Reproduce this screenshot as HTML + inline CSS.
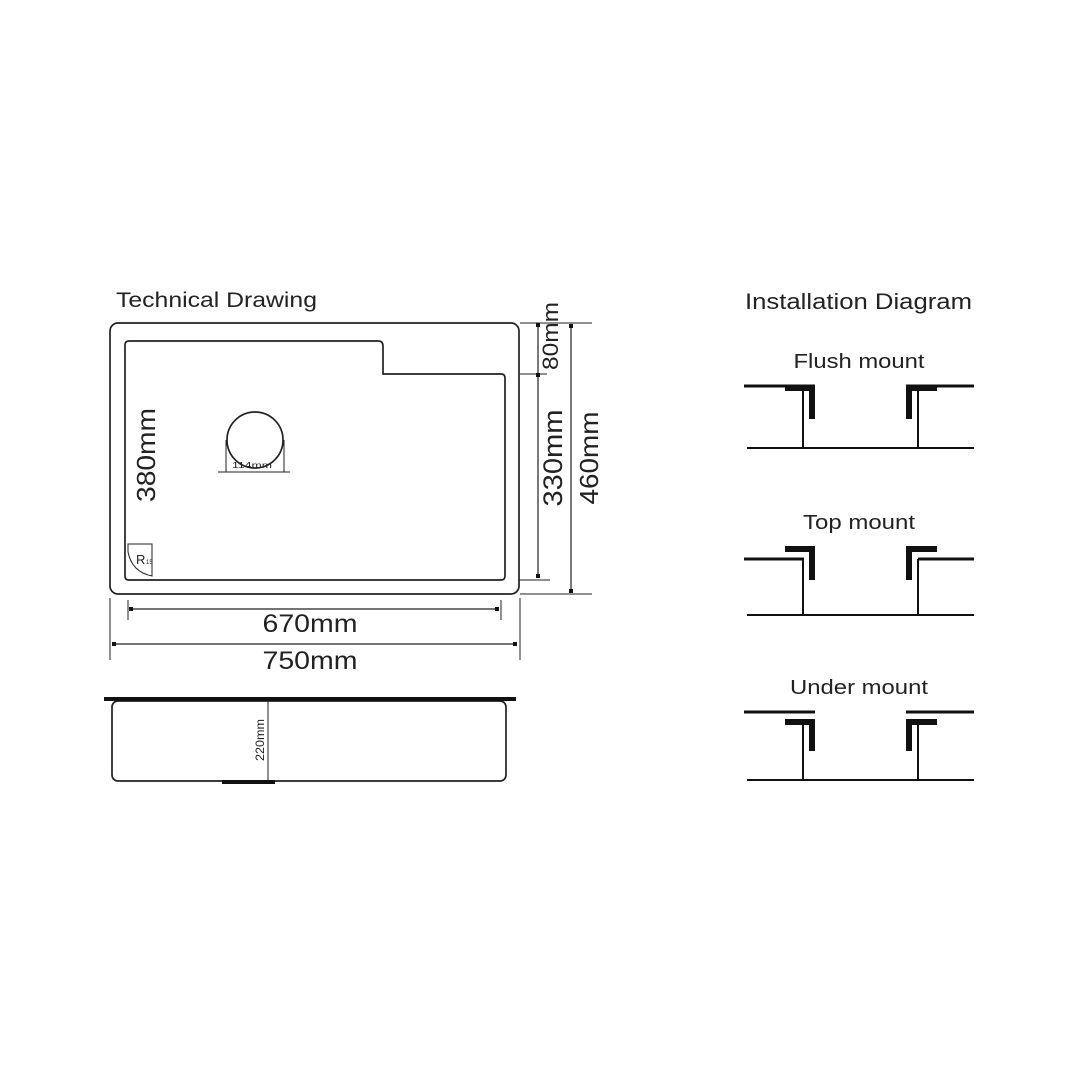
<!DOCTYPE html>
<html><head><meta charset="utf-8"><style>
html,body{margin:0;padding:0;background:#fff;}
svg{display:block;font-family:"Liberation Sans",Arial,sans-serif;}
</style></head><body>
<svg width="1080" height="1080" viewBox="0 0 1080 1080" xmlns="http://www.w3.org/2000/svg">
<rect width="1080" height="1080" fill="#fff"/>
<g fill="none" stroke="#222" stroke-width="1.7">
<rect x="110" y="323" width="409" height="271" rx="8"/>
<path d="M125 345 Q125 341 129 341 L378 341 Q383 341 383 346 L383 374 L501 374 Q505 374 505 378 L505 576 Q505 580 501 580 L129 580 Q125 580 125 576 Z"/>
<circle cx="255" cy="440" r="28"/>
<path d="M226 440 L226 472 M284 440 L284 472 M218 472 L290 472" stroke-width="1"/>
<path d="M128 544 L152 544 L152 576 Q132 572 128 552 Z" stroke-width="1"/>
<path d="M520 323 L592 323 M520 374 L547 374 M519 580 L550 580 M520 594 L592 594" stroke-width="1"/>
<path d="M538 325 L538 577 M571 326 L571 591" stroke-width="1.2"/>
<path d="M128 600 L128 620 M501 600 L501 620 M110 598 L110 660 M520 598 L520 660" stroke-width="1"/>
<path d="M130 609 L499 609 M113 644 L516 644" stroke-width="1.2"/>
<rect x="112" y="701" width="394" height="80" rx="6"/>
<path d="M268 700 L268 781" stroke-width="1"/>
</g>
<g fill="#111">
<rect x="536" y="323" width="4" height="4"/><rect x="536" y="373" width="4" height="4"/><rect x="536" y="574" width="4" height="4"/>
<rect x="569" y="324" width="4" height="4"/><rect x="569" y="589" width="4" height="4"/>
<rect x="129" y="607" width="4" height="4"/><rect x="495" y="607" width="4" height="4"/>
<rect x="112" y="642" width="4" height="4"/><rect x="513" y="642" width="4" height="4"/>
<rect x="104" y="697" width="412" height="4"/>
<rect x="222" y="780" width="53" height="4"/>
</g>
<g fill="#222" lengthAdjust="spacingAndGlyphs">
<text x="116" y="307" font-size="21" textLength="201" lengthAdjust="spacingAndGlyphs">Technical Drawing</text>
<text x="232" y="468" font-size="8" textLength="40" lengthAdjust="spacingAndGlyphs">114mm</text>
<text x="136" y="564" font-size="13">R</text><text x="146" y="564" font-size="6">15</text>
<text transform="translate(155,455) rotate(-90)" font-size="26" text-anchor="middle" textLength="94" lengthAdjust="spacingAndGlyphs">380mm</text>
<text transform="translate(558,336) rotate(-90)" font-size="22" text-anchor="middle" textLength="68" lengthAdjust="spacingAndGlyphs">80mm</text>
<text transform="translate(562,458) rotate(-90)" font-size="27" text-anchor="middle" textLength="97" lengthAdjust="spacingAndGlyphs">330mm</text>
<text transform="translate(598,458) rotate(-90)" font-size="26" text-anchor="middle" textLength="93" lengthAdjust="spacingAndGlyphs">460mm</text>
<text x="310" y="632" font-size="25" text-anchor="middle" textLength="95" lengthAdjust="spacingAndGlyphs">670mm</text>
<text x="310" y="669" font-size="25" text-anchor="middle" textLength="95" lengthAdjust="spacingAndGlyphs">750mm</text>
<text transform="translate(264,740) rotate(-90)" font-size="12" text-anchor="middle" textLength="42" lengthAdjust="spacingAndGlyphs">220mm</text>
<text x="745" y="309" font-size="22" textLength="227" lengthAdjust="spacingAndGlyphs">Installation Diagram</text>
<text x="859" y="368" font-size="20" text-anchor="middle" textLength="131" lengthAdjust="spacingAndGlyphs">Flush mount</text>
<text x="859" y="529" font-size="20" text-anchor="middle" textLength="112" lengthAdjust="spacingAndGlyphs">Top mount</text>
<text x="859" y="694" font-size="20" text-anchor="middle" textLength="138" lengthAdjust="spacingAndGlyphs">Under mount</text>
</g>
<g stroke="#111" fill="none">
<path d="M744 386 L815 386 M906 386 L974 386" stroke-width="3"/>
<path d="M747 448 L974 448 M803 390 L803 448 M918 390 L918 448" stroke-width="2"/>
<path d="M744 559 L804 559 M918 559 L974 559" stroke-width="3"/>
<path d="M747 615 L974 615 M803 559 L803 615 M918 559 L918 616" stroke-width="2"/>
<path d="M744 712 L815 712 M906 712 L974 712" stroke-width="3"/>
<path d="M747 780 L974 780 M803 722 L803 780 M918 722 L918 780" stroke-width="2"/>
</g>
<g fill="#111">
<rect x="785" y="386" width="30" height="5"/><rect x="809" y="386" width="6" height="33"/>
<rect x="906" y="386" width="31" height="5"/><rect x="906" y="386" width="6" height="33"/>
<rect x="785" y="546" width="30" height="6"/><rect x="809" y="546" width="6" height="34"/>
<rect x="906" y="546" width="31" height="6"/><rect x="906" y="546" width="6" height="34"/>
<rect x="785" y="719" width="30" height="6"/><rect x="809" y="719" width="6" height="32"/>
<rect x="906" y="719" width="31" height="6"/><rect x="906" y="719" width="6" height="32"/>
</g>
</svg>
</body></html>
